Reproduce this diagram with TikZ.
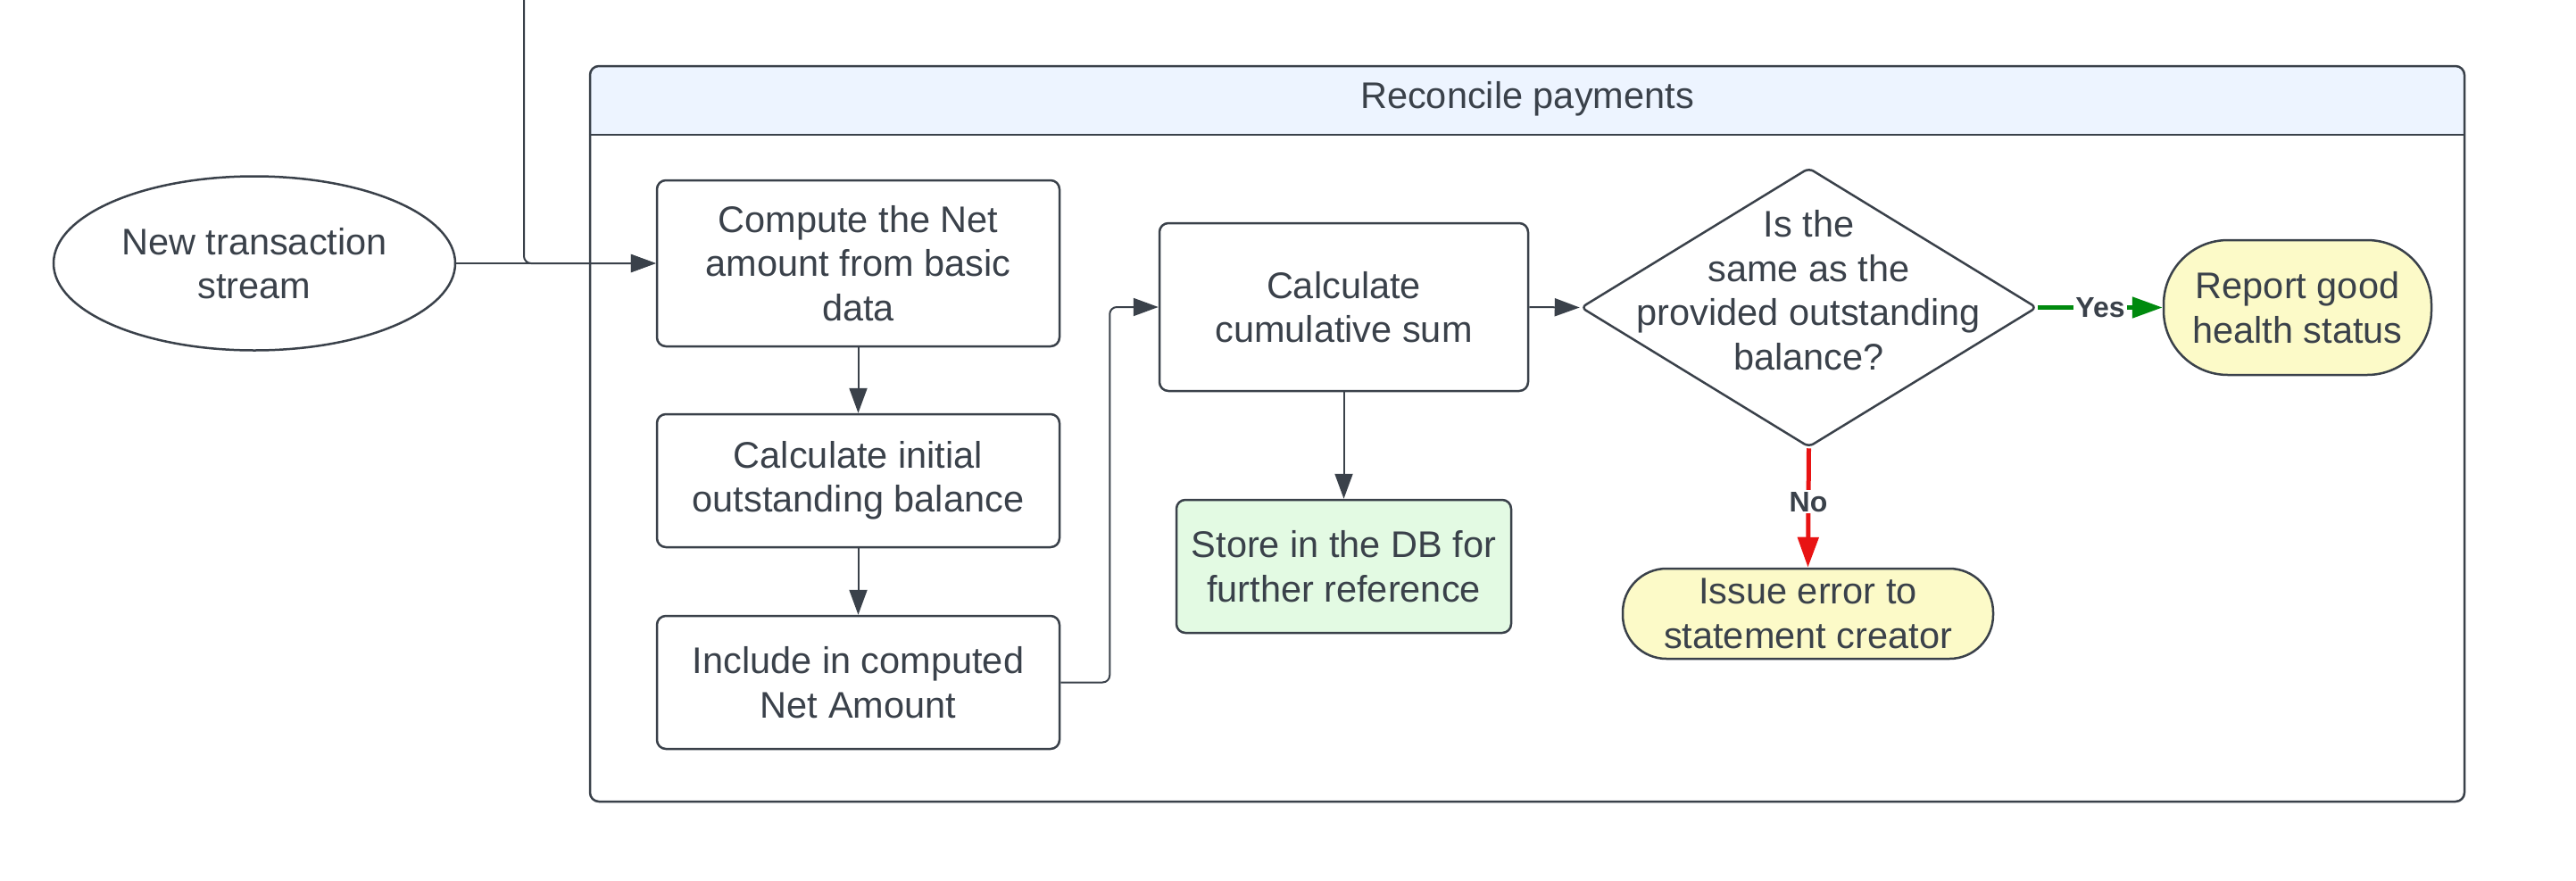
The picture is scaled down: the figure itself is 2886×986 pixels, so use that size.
\documentclass[tikz,border=0pt]{standalone}
\usepackage{fontspec}
\setmainfont{Liberation Sans}
\usetikzlibrary{shapes.geometric,arrows.meta}
\definecolor{ink}{HTML}{3A414A}
\definecolor{hdr}{HTML}{EDF4FF}
\definecolor{storegreen}{HTML}{E3FAE3}
\definecolor{termyellow}{HTML}{FCFAC8}
\definecolor{yesgreen}{HTML}{008A0E}
\definecolor{nored}{HTML}{E81313}
\begin{document}
\begin{tikzpicture}[x=1pt,y=-1pt,
  every node/.style={text=ink, font=\fontsize{41.5}{49.5}\selectfont},
  proc/.style={draw=ink, line width=2.5pt, rounded corners=10pt, align=center, inner sep=0pt},
  term/.style={draw=ink, line width=2.5pt, fill=termyellow, align=center, inner sep=0pt},
  conn/.style={draw=ink, line width=2pt, -{Triangle[length=28pt,width=20pt]}},
  yesarrow/.style={draw=yesgreen, line width=5pt, -{Triangle[length=34pt,width=23pt]}},
  noarrow/.style={draw=nored, line width=5pt, -{Triangle[length=34pt,width=23pt]}},
  lbl/.style={fill=white, inner sep=2pt, font=\fontsize{32}{36}\selectfont\bfseries, text=ink}
]
\useasboundingbox (0,0) rectangle (2886,986);

% swimlane container
\fill[hdr] (661,151) {[rounded corners=10pt] -- (661,74) -- (2761,74)} -- (2761,151) -- cycle;
\node[draw=ink, line width=2.5pt, rounded corners=10pt, minimum width=2100pt, minimum height=824pt, inner sep=0pt] (lane) at (1711,486) {};
\draw[ink, line width=2.5pt] (lane.west |- 0,151) -- (lane.east |- 0,151);
\node (title) at (1711,111) {Reconcile payments};

% start
\node[draw=ink, line width=2.5pt, ellipse, minimum width=450pt, minimum height=195pt, align=center, inner sep=0pt] (ell) at (285,295) {New transaction\\stream};

% process boxes
\node[proc, minimum width=451pt, minimum height=186pt] (comp) at (961.5,295) {Compute the Net\\amount from basic\\data};
\node[proc, minimum width=451pt, minimum height=149pt] (init) at (961.5,538.5) {Calculate initial\\outstanding balance};
\node[proc, minimum width=451pt, minimum height=149pt] (incl) at (961.5,764.5) {Include in computed\\Net Amount};
\node[proc, minimum width=413pt, minimum height=188pt] (cum) at (1505.5,344) {Calculate\\cumulative sum};
\node[proc, fill=storegreen, minimum width=375pt, minimum height=149pt] (store) at (1505.5,634.5) {Store in the DB for\\further reference};

% decision
\node[draw=ink, line width=2.5pt, diamond, rounded corners=6pt, minimum width=511pt, minimum height=313pt, inner sep=0pt] (dec) at (2026.5,344.5) {};
\node[align=center] (dectext) at (2026.5,325) {Is the\\same as the\\provided outstanding\\balance?};

% terminals
\node[term, rounded corners=72pt, minimum width=300pt, minimum height=151pt] (rep) at (2574,344.5) {Report good\\health status};
\node[term, rounded corners=49pt, minimum width=415pt, minimum height=101pt] (iss) at (2025.5,687.5) {Issue error to\\statement creator};

% connectors
\coordinate (top) at (587,0);
\draw[conn, rounded corners=8pt] (top) |- (comp.west);
\draw[conn] (ell.east) -- (comp.west);
\draw[conn] (comp.south) -- (init.north);
\draw[conn] (init.south) -- (incl.north);
\draw[conn, rounded corners=8pt] (incl.east) -- ++(55,0) |- (cum.west);
\draw[conn] (cum.south) -- (store.north);
\draw[conn] (cum.east) -- (dec.west);
\draw[yesarrow] (dec.east) -- node[lbl] {Yes} (rep.west);
\draw[noarrow] (dec.south) -- node[lbl, pos=0.45] {No} (iss.north);
\end{tikzpicture}
\end{document}
